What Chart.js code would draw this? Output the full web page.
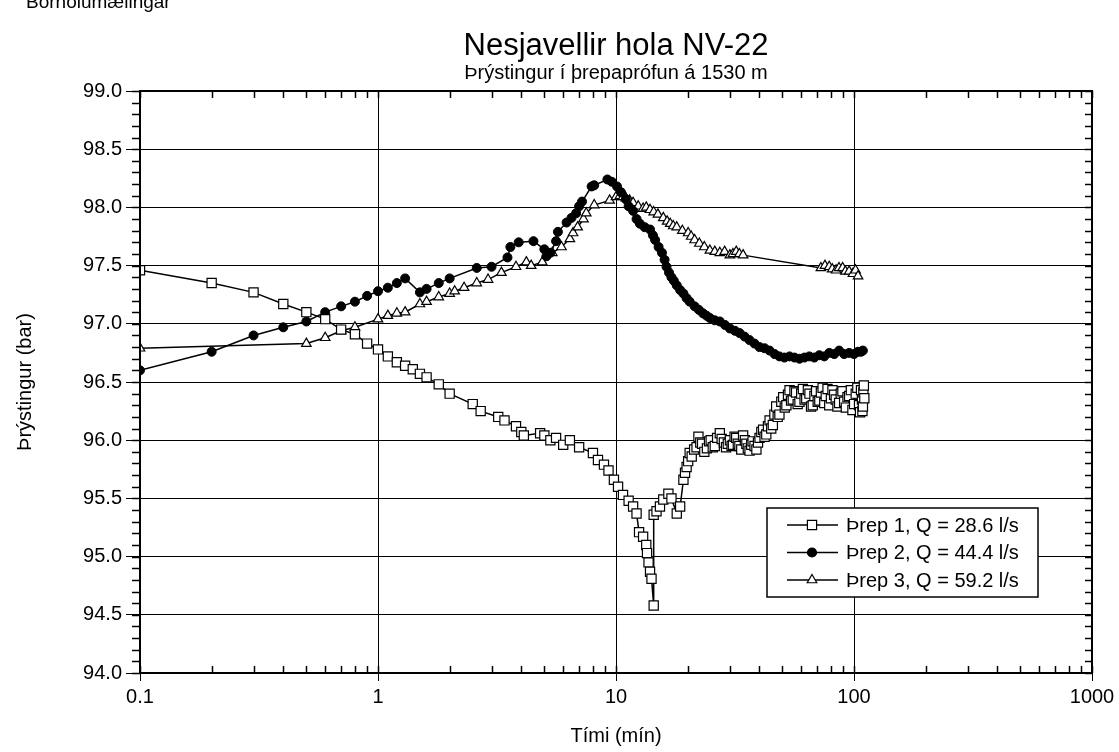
<!DOCTYPE html>
<html>
<head>
<meta charset="utf-8">
<script src="https://cdn.jsdelivr.net/npm/chart.js@4"></script>
<style>
  html, body { margin: 0; padding: 0; background: #fff; }
  #wrap { width: 1119px; height: 752px; position: relative; }
</style>
</head>
<body>
<div id="wrap"><canvas id="pressureChart" width="1119" height="752"></canvas></div>
<script>
"use strict";

// Þrep 1
const t1 = [0.1, 0.2, 0.3, 0.4, 0.5, 0.6, 0.7, 0.8, 0.9, 1.0, 1.1, 1.2, 1.3, 1.4, 1.5, 1.6, 1.8, 2.0,
    2.5, 2.7, 3.2, 3.4, 3.8, 4.0, 4.1, 4.8, 5.0, 5.3, 5.6, 6.0, 6.4, 7.0, 8.0, 8.4, 8.9, 9.3, 9.8,
    10.2, 10.7, 11.3, 11.8, 12.2, 12.5, 13.0, 13.4, 13.5, 13.7, 13.9, 14.1, 14.4,
    14.4, 14.8, 15.3, 15.8, 16.6, 17.1, 18.0, 18.6,
    19.2, 19.5, 19.8, 20.1, 20.4, 20.8, 21.3, 21.8, 22.2, 22.6, 23.0, 23.5, 24.1, 24.6, 25.0, 25.5,
    26.0, 26.6, 27.3, 27.8, 28.4, 29.0, 29.5, 30.1, 30.6, 31.0, 31.5, 32.0, 32.5, 33.0, 33.6, 34.2,
    34.8, 35.3, 35.8, 36.4, 37.0, 37.5, 38.2, 38.9, 39.5, 40.1, 40.8, 41.5, 42.1, 42.8, 43.5, 44.2,
    44.9, 45.6, 46.3, 47.1, 47.8, 48.6, 49.5, 50.4, 51.2, 52.0, 52.8, 53.6, 54.4, 55.3, 56.2, 57.1,
    58.0, 59.0, 60.0, 61.0, 62.0, 63.0, 64.0, 65.0, 66.0, 67.1, 68.2, 69.3, 70.4, 71.5, 72.6, 73.8,
    75.0, 76.1, 77.4, 78.7, 80.0, 81.2, 82.5, 83.8, 85.2, 86.6, 88.0, 89.4, 90.9, 92.4, 93.9, 95.4,
    97.0, 98.5, 100.1, 101.7, 103.3, 105, 106, 107, 108, 108.5, 109, 109.5, 110, 110.5];
const p1 = [97.46, 97.35, 97.27, 97.17, 97.10, 97.04, 96.95, 96.91, 96.83, 96.78, 96.72, 96.67, 96.64, 96.61, 96.57, 96.54, 96.48, 96.40,
    96.31, 96.25, 96.20, 96.17, 96.12, 96.07, 96.04, 96.06, 96.04, 96.00, 96.02, 95.96, 96.00, 95.94, 95.89, 95.83, 95.79, 95.74, 95.66,
    95.60, 95.53, 95.48, 95.43, 95.37, 95.21, 95.17, 95.10, 95.03, 94.95, 94.87, 94.81, 94.58,
    95.36, 95.39, 95.43, 95.49, 95.54, 95.50, 95.37, 95.43,
    95.66, 95.72, 95.77, 95.82, 95.89, 95.86, 95.92, 95.94, 96.03, 95.98, 95.97, 95.90, 95.93, 95.99, 96.00, 95.94,
    95.95, 96.02, 96.06, 96.01, 95.98, 95.94, 95.97, 96.00, 95.95, 95.96, 96.03, 96.02, 95.97, 95.95, 95.92, 96.04,
    96.00, 95.97, 95.93, 95.91, 95.96, 95.99, 95.95, 95.92, 95.98, 96.02, 96.07, 96.09, 96.03, 96.05, 96.12, 96.17,
    96.10, 96.13, 96.22, 96.29, 96.20, 96.22, 96.33, 96.37, 96.28, 96.30, 96.39, 96.43, 96.34, 96.35, 96.42, 96.41,
    96.31, 96.33, 96.40, 96.44, 96.35, 96.36, 96.43, 96.40, 96.29, 96.30, 96.38, 96.42, 96.33, 96.34, 96.41, 96.45,
    96.32, 96.38, 96.44, 96.30, 96.36, 96.43, 96.39, 96.35, 96.29, 96.32, 96.40, 96.42, 96.33, 96.28, 96.37, 96.38,
    96.43, 96.26, 96.31, 96.40, 96.45, 96.30, 96.24, 96.43, 96.35, 96.25, 96.29, 96.41, 96.47, 96.36];

// Þrep 2
const t2 = [0.1, 0.2, 0.3, 0.4, 0.5, 0.6, 0.7, 0.8, 0.9, 1.0, 1.1, 1.2, 1.3, 1.5, 1.6, 1.8, 2.0, 2.6, 3.0,
    3.5, 3.6, 3.9, 4.5, 5.0, 5.1, 5.3, 5.6, 5.7, 6.2, 6.5, 6.8, 7.0, 7.2, 7.9, 8.1, 9.2, 9.6, 10.1,
    10.5, 11.0, 11.3, 11.8, 12.2, 12.6, 13.2, 13.9, 14.3, 14.6, 15.1, 15.6, 16.0, 16.3, 16.7, 17.1,
    17.5, 18.0, 18.6, 19.2, 19.8, 20.4, 21.4, 22.3, 23.2, 24.0, 24.8, 26.0, 27.3, 28.7, 30.1, 31.6,
    33.1, 34.7, 36.4, 38.2, 40.1, 42.1, 44.2, 46.4, 48.6, 51.0, 53.6, 56.2, 59.0, 61.9, 64.9, 68.1,
    71.5, 75.0, 78.7, 82.6, 86.6, 90.9, 95.4, 100, 104, 107, 109];
const p2 = [96.60, 96.76, 96.90, 96.97, 97.02, 97.10, 97.15, 97.19, 97.24, 97.28, 97.31, 97.35, 97.39, 97.27, 97.30, 97.35, 97.39, 97.48, 97.49,
    97.57, 97.66, 97.70, 97.71, 97.64, 97.58, 97.61, 97.71, 97.79, 97.87, 97.91, 97.95, 98.01, 98.05, 98.18, 98.19, 98.24, 98.22, 98.18,
    98.13, 98.07, 98.01, 97.97, 97.90, 97.86, 97.83, 97.81, 97.76, 97.72, 97.66, 97.61, 97.55, 97.49, 97.44, 97.40,
    97.37, 97.33, 97.29, 97.26, 97.22, 97.19, 97.15, 97.12, 97.09, 97.07, 97.05, 97.03, 97.02, 96.99, 96.96, 96.94,
    96.92, 96.89, 96.86, 96.83, 96.80, 96.79, 96.77, 96.74, 96.72, 96.71, 96.72, 96.71, 96.70, 96.71, 96.72, 96.71,
    96.73, 96.72, 96.75, 96.74, 96.77, 96.74, 96.75, 96.74, 96.76, 96.76, 96.77];

// Þrep 3
const t3 = [0.1, 0.5, 0.6, 0.7, 0.8, 1.0, 1.1, 1.2, 1.3, 1.5, 1.6, 1.8, 2.0, 2.1, 2.3, 2.6, 2.9, 3.3, 3.8,
    4.2, 4.4, 4.9, 5.4, 5.9, 6.4, 6.6, 6.9, 7.3, 7.5, 8.1, 9.4, 10.0, 10.4, 10.7, 11.0, 11.4, 11.8,
    12.4, 13.0, 13.4, 13.9, 14.4, 15.0, 15.8, 16.4, 16.9, 17.4, 18.0, 19.0, 20.1, 20.7, 21.4, 22.4,
    23.5, 24.8, 26.0, 27.3, 28.6, 30.1, 31.0, 32.0, 33.0, 34.2,
    72.6, 75.5, 78.7, 81.0, 84.1, 86.5, 89.6, 92.0, 95.4, 99.0, 101.5, 104];
const p3 = [96.79, 96.83, 96.88, 96.94, 96.97, 97.04, 97.07, 97.09, 97.10, 97.17, 97.19, 97.23, 97.26, 97.28, 97.31, 97.35, 97.38, 97.44, 97.49,
    97.53, 97.50, 97.53, 97.61, 97.66, 97.73, 97.78, 97.83, 97.90, 97.95, 98.02, 98.06, 98.09, 98.10, 98.09, 98.08, 98.06, 98.04,
    98.01, 97.99, 98.00, 97.98, 97.96, 97.94, 97.91, 97.88, 97.86, 97.84, 97.83, 97.80, 97.78, 97.75, 97.72, 97.69,
    97.66, 97.63, 97.62, 97.61, 97.62, 97.59, 97.60, 97.62, 97.60, 97.59,
    97.48, 97.50, 97.49, 97.47, 97.46, 97.48, 97.48, 97.45, 97.45, 97.43, 97.46, 97.41];

const seriesLabels = ['Þrep 1, Q = 28.6 l/s', 'Þrep 2, Q = 44.4 l/s', 'Þrep 3, Q = 59.2 l/s'];
const xTicks = [0.1, 1, 10, 100, 1000];

const FONT = "'Liberation Sans', Arial, sans-serif";

function toPoints(ts, ps) {
    return ts.map((t, i) => ({ x: t, y: ps[i] }));
}

// frame, minor ticks, titles and the boxed legend
const decorPlugin = {
    id: 'decor',
    afterDraw(chart) {
        const ctx = chart.ctx;
        const area = chart.chartArea;
        const xs = chart.scales.x;
        const ys = chart.scales.y;
        ctx.save();
        ctx.strokeStyle = '#000';
        ctx.lineWidth = 1.5;
        ctx.beginPath();
        // y minor ticks every 0.1
        for (let i = 0; i <= 50; i++) {
            const v = 94 + i * 0.1;
            const py = Math.round(ys.getPixelForValue(v)) + 0.5;
            ctx.moveTo(area.left - 8, py);
            ctx.lineTo(area.left, py);
            ctx.moveTo(area.right - 7, py);
            ctx.lineTo(area.right, py);
        }
        // x minor ticks (log)
        for (let d = 0.1; d < 1000; d *= 10) {
            for (let m = 1; m <= 10; m++) {
                const px = Math.round(xs.getPixelForValue(d * m)) + 0.5;
                ctx.moveTo(px, area.top);
                ctx.lineTo(px, area.top + 7);
                ctx.moveTo(px, area.bottom);
                ctx.lineTo(px, area.bottom - 7);
            }
        }
        ctx.stroke();

        ctx.lineWidth = 2;
        ctx.strokeRect(area.left, area.top, area.right - area.left, area.bottom - area.top);

        // titles
        const cx = (area.left + area.right) / 2;
        ctx.fillStyle = '#000';
        ctx.textAlign = 'center';
        ctx.textBaseline = 'alphabetic';
        ctx.font = '31px ' + FONT;
        ctx.fillText('Nesjavellir hola NV-22', cx, 55);
        ctx.font = '20px ' + FONT;
        ctx.fillText('Þrýstingur í þrepaprófun á 1530 m', cx, 79);
        ctx.textAlign = 'left';
        ctx.font = '19px ' + FONT;
        ctx.fillText('Borholumælingar', 26, 8);

        // legend
        const lx = 767, ly = 508, lw = 271, lh = 89;
        ctx.fillStyle = '#fff';
        ctx.fillRect(lx, ly, lw, lh);
        ctx.lineWidth = 1.5;
        ctx.strokeStyle = '#000';
        ctx.strokeRect(lx, ly, lw, lh);
        chart.data.datasets.forEach((ds, i) => {
            const ry = ly + 17 + i * 27.5;
            ctx.beginPath();
            ctx.lineWidth = 1.5;
            ctx.moveTo(lx + 20, ry);
            ctx.lineTo(lx + 71, ry);
            ctx.stroke();
            ctx.fillStyle = ds.pointBackgroundColor;
            ctx.strokeStyle = '#000';
            ctx.lineWidth = 1.2;
            Chart.helpers.drawPoint(ctx, {
                pointStyle: ds.pointStyle,
                radius: ds.pointRadius,
                borderWidth: 1.2
            }, lx + 45, ry);
            ctx.fillStyle = '#000';
            ctx.font = '20px ' + FONT;
            ctx.textBaseline = 'middle';
            ctx.textAlign = 'left';
            ctx.fillText(ds.label, lx + 79, ry + 1);
        });
        ctx.restore();
    }
};

const canvas = document.getElementById('pressureChart');

new Chart(canvas, {
    type: 'scatter',
    data: {
        datasets: [{
            label: seriesLabels[0],
            data: toPoints(t1, p1),
            showLine: true,
            borderColor: '#000',
            borderWidth: 1.5,
            pointStyle: 'rect',
            pointRadius: 6.5,
            pointBackgroundColor: '#fff',
            pointBorderColor: '#000',
            pointBorderWidth: 1.2
        }, {
            label: seriesLabels[1],
            data: toPoints(t2, p2),
            showLine: true,
            borderColor: '#000',
            borderWidth: 1.5,
            pointStyle: 'circle',
            pointRadius: 4.5,
            pointBackgroundColor: '#000',
            pointBorderColor: '#000',
            pointBorderWidth: 1
        }, {
            label: seriesLabels[2],
            data: toPoints(t3, p3),
            showLine: true,
            borderColor: '#000',
            borderWidth: 1.5,
            pointStyle: 'triangle',
            pointRadius: 5.5,
            pointBackgroundColor: '#fff',
            pointBorderColor: '#000',
            pointBorderWidth: 1.2
        }]
    },
    options: {
        responsive: false,
        animation: false,
        events: [],
        layout: {
            padding: { top: 91, right: 27, left: 0, bottom: 0 }
        },
        plugins: {
            legend: { display: false },
            tooltip: { enabled: false }
        },
        scales: {
            x: {
                type: 'logarithmic',
                min: 0.1,
                max: 1000,
                afterBuildTicks: (scale) => {
                    scale.ticks = xTicks.map(v => ({ value: v }));
                },
                afterFit: (scale) => { scale.height = 79; },
                ticks: {
                    autoSkip: false,
                    maxRotation: 0,
                    padding: 4,
                    color: '#000',
                    font: { family: FONT, size: 20 },
                    callback: (v) => String(v)
                },
                grid: {
                    color: '#000',
                    lineWidth: 1,
                    tickLength: 8
                },
                border: { display: false },
                title: {
                    display: true,
                    text: 'Tími (mín)',
                    color: '#000',
                    font: { family: FONT, size: 20 },
                    padding: { top: 4, bottom: 4 }
                }
            },
            y: {
                min: 94,
                max: 99,
                afterFit: (scale) => { scale.width = 140; },
                ticks: {
                    stepSize: 0.5,
                    padding: 4,
                    color: '#000',
                    font: { family: FONT, size: 20 },
                    callback: (v) => v.toFixed(1)
                },
                grid: {
                    color: '#000',
                    lineWidth: 1,
                    tickLength: 14
                },
                border: { display: false },
                title: {
                    display: true,
                    text: 'Þrýstingur (bar)',
                    color: '#000',
                    font: { family: FONT, size: 20 },
                    padding: { top: 13, bottom: 0 }
                }
            }
        }
    },
    plugins: [decorPlugin]
});
</script>
</body>
</html>
